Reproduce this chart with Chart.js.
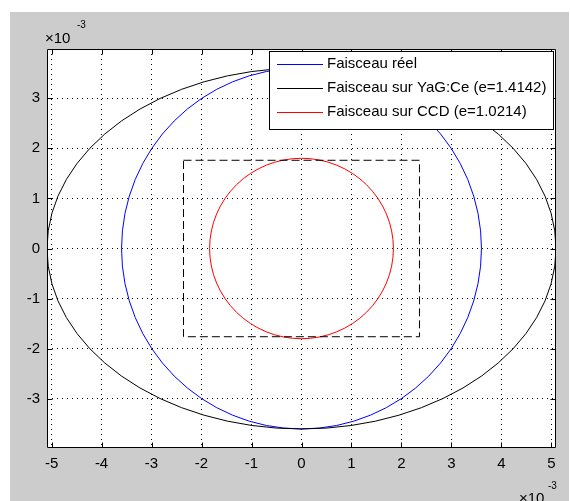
<!DOCTYPE html>
<html>
<head>
<meta charset="utf-8">
<script src="https://cdn.jsdelivr.net/npm/chart.js@4/dist/chart.umd.min.js"></script>
<style>
  html, body { margin: 0; padding: 0; background: #ffffff; }
  canvas { display: block; }
</style>
</head>
<body>
<canvas id="beam" width="570" height="501"></canvas>
<script>
// Beam profiles (units of 1e-3): centre at origin, semi-axes along x and y
const beamLabels = ['Faisceau réel', 'Faisceau sur YaG:Ce (e=1.4142)', 'Faisceau sur CCD (e=1.0214)'];
const beamColors = ['#0000ff', '#000000', '#ff0000'];
const beamSemiX = [3.6, 5.0912, 1.8385];
const beamSemiY = [3.6, 3.6, 1.8];

// CCD sensor outline (dashed rectangle), corners in order
const sensorX = [-2.36, 2.36, 2.36, -2.36, -2.36];
const sensorY = [1.76, 1.76, -1.76, -1.76, 1.76];

// Axis ticks and limits
const xTicks = [-5, -4, -3, -2, -1, 0, 1, 2, 3, 4, 5];
const yTicks = [-3, -2, -1, 0, 1, 2, 3];
const xLimit = [-5.0912, 5.0912];
const yLimit = [-3.98, 3.98];

const FONT = 'Liberation Sans, Arial, Helvetica, sans-serif';

// Grey figure background and white axes area
const backgroundPlugin = {
  id: 'figureBackground',
  beforeDraw(chart) {
    const { ctx, chartArea: a } = chart;
    ctx.save();
    ctx.fillStyle = '#ffffff';
    ctx.fillRect(0, 0, chart.width, chart.height);
    ctx.fillStyle = '#cccccc';
    ctx.fillRect(10, 12, chart.width - 11, chart.height - 12);
    ctx.fillStyle = '#ffffff';
    ctx.fillRect(a.left, a.top, a.right - a.left, a.bottom - a.top);
    ctx.restore();
  }
};

// Ellipses drawn through the x/y scales
const ellipsePlugin = {
  id: 'beamEllipses',
  beforeDatasetsDraw(chart) {
    const { ctx, chartArea: a, scales: { x, y } } = chart;
    ctx.save();
    ctx.beginPath();
    ctx.rect(a.left, a.top, a.right - a.left, a.bottom - a.top);
    ctx.clip();
    beamSemiX.forEach((rx, i) => {
      const cx = x.getPixelForValue(0);
      const cy = y.getPixelForValue(0);
      const px = Math.abs(x.getPixelForValue(rx) - cx);
      const py = Math.abs(y.getPixelForValue(beamSemiY[i]) - cy);
      ctx.beginPath();
      ctx.ellipse(cx, cy, px, py, 0, 0, Math.PI * 2);
      ctx.strokeStyle = beamColors[i];
      ctx.lineWidth = 1;
      ctx.stroke();
    });
    ctx.restore();
  }
};

// Axes box, inward tick marks, exponent labels and legend box
const framePlugin = {
  id: 'axesFrame',
  afterDraw(chart) {
    const { ctx, chartArea: a, scales: { x, y } } = chart;
    ctx.save();
    ctx.strokeStyle = '#000000';
    ctx.lineWidth = 1;
    const L = Math.round(a.left) + 0.5, R = Math.round(a.right) - 0.5;
    const T = Math.round(a.top) + 0.5, B = Math.round(a.bottom) - 0.5;
    ctx.beginPath();
    ctx.rect(L, T, R - L, B - T);
    ctx.stroke();
    const len = 5;
    ctx.beginPath();
    xTicks.forEach(v => {
      const px = Math.round(x.getPixelForValue(v)) + 0.5;
      ctx.moveTo(px, B); ctx.lineTo(px, B - len);
      ctx.moveTo(px, T); ctx.lineTo(px, T + len);
    });
    yTicks.forEach(v => {
      const py = Math.round(y.getPixelForValue(v)) + 0.5;
      ctx.moveTo(L, py); ctx.lineTo(L + len, py);
      ctx.moveTo(R, py); ctx.lineTo(R - len, py);
    });
    ctx.stroke();

    // exponent multipliers
    ctx.fillStyle = '#000000';
    ctx.textBaseline = 'alphabetic';
    ctx.textAlign = 'left';
    ctx.font = '15px ' + FONT;
    ctx.fillText('\u00d710', 45, 43);
    ctx.fillText('\u00d710', 519, 503);
    ctx.font = '10px ' + FONT;
    ctx.fillText('-3', 77, 28);
    ctx.fillText('-3', 548, 489);

    // legend
    const box = { left: 269.5, top: 51.5, right: 553.5, bottom: 129.5 };
    ctx.fillStyle = '#ffffff';
    ctx.fillRect(box.left, box.top, box.right - box.left, box.bottom - box.top);
    ctx.strokeStyle = '#000000';
    ctx.strokeRect(box.left, box.top, box.right - box.left, box.bottom - box.top);
    const lineY = [64.5, 88.5, 112.5];
    const textY = [67.5, 91.5, 115.5];
    ctx.font = '15px ' + FONT;
    beamLabels.forEach((label, i) => {
      ctx.beginPath();
      ctx.moveTo(277, lineY[i]);
      ctx.lineTo(323, lineY[i]);
      ctx.strokeStyle = beamColors[i];
      ctx.stroke();
      ctx.fillStyle = '#000000';
      ctx.fillText(label, 327, textY[i]);
    });
    ctx.restore();
  }
};

const axisCommon = {
  type: 'linear',
  grid: { color: '#000000', lineWidth: 1, drawTicks: false, drawOnChartArea: true },
  border: { display: false, dash: [1, 4] },
  ticks: {
    color: '#000000',
    font: { family: FONT, size: 15 },
    padding: 7,
    autoSkip: false,
    maxRotation: 0,
    callback: v => String(v)
  }
};

new Chart(document.getElementById('beam'), {
  type: 'scatter',
  data: {
    datasets: [{
      label: 'CCD',
      data: sensorX.map((v, i) => ({ x: v, y: sensorY[i] })),
      showLine: true,
      borderColor: '#000000',
      borderWidth: 1,
      borderDash: [8, 4],
      pointRadius: 0,
      fill: false,
      tension: 0
    }]
  },
  options: {
    responsive: false,
    animation: false,
    devicePixelRatio: 1,
    layout: { padding: { left: 0, top: 49, right: 14, bottom: 0 } },
    plugins: { legend: { display: false }, tooltip: { enabled: false } },
    scales: {
      x: Object.assign({}, axisCommon, {
        min: xLimit[0], max: xLimit[1],
        afterBuildTicks: s => { s.ticks = xTicks.map(v => ({ value: v })); },
        afterFit: s => { s.height = 53; }
      }),
      y: Object.assign({}, axisCommon, {
        min: yLimit[0], max: yLimit[1],
        afterBuildTicks: s => { s.ticks = yTicks.map(v => ({ value: v })); },
        afterFit: s => { s.width = 47; }
      })
    }
  },
  plugins: [backgroundPlugin, ellipsePlugin, framePlugin]
});
</script>
</body>
</html>
